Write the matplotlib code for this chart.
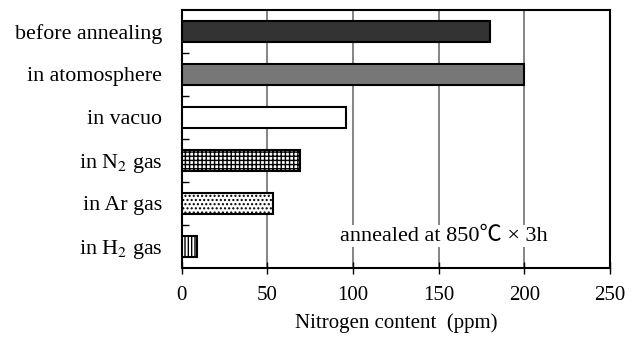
import matplotlib
matplotlib.use('Agg')
import matplotlib.pyplot as plt
import numpy as np

# datos
labels = ['before annealing', 'in atomosphere', 'in vacuo',
          'in N$_2$ gas', 'in Ar gas', 'in H$_2$ gas']
nitrogen = [180, 200, 96, 69, 53, 9]
colores = ['#333333', '#777777', 'white', 'white', 'white', 'white']
hatches = [None, None, None, '++++', '....', '|||||']
xticks = [0, 50, 100, 150, 200, 250]

plt.rcParams['font.family'] = ['Liberation Serif', 'Noto Sans CJK JP', 'DejaVu Sans']
plt.rcParams['mathtext.fontset'] = 'stix'
plt.rcParams['hatch.linewidth'] = 1.0

fig = plt.figure(figsize=(6.4, 3.43), dpi=100)
ax = fig.add_axes([0.284, 0.219, 0.669, 0.752])

y = np.arange(len(labels))[::-1]
for yi, val, c, h in zip(y, nitrogen, colores, hatches):
    ax.barh(yi, val, height=0.5, color=c, edgecolor='black', linewidth=1.5,
            hatch=h, zorder=3)

ax.set_xlim(0, 250)
ax.set_ylim(-0.5, 5.5)
ax.set_xticks(xticks)
ax.set_yticks(y)
ax.set_yticklabels(labels, fontsize=15.8)
ax.set_yticks(np.arange(0.5, 5.5, 1), minor=True)
ax.tick_params(axis='y', which='major', length=0, pad=14)
ax.tick_params(axis='y', which='minor', direction='in', length=5, width=1)
ax.tick_params(axis='x', direction='inout', length=8, width=1, labelsize=15, pad=9)
ax.grid(axis='x', color='#707070', linewidth=1.2, zorder=0)
for s in ax.spines.values():
    s.set_linewidth(1.5)

ax.set_xlabel('Nitrogen content  (ppm)', fontsize=15, labelpad=6)
ax.text(153, 0.24, 'annealed at 850℃ × 3h', fontsize=16, ha='center', va='center',
        bbox=dict(facecolor='white', edgecolor='none', pad=1), zorder=4)

plt.savefig('out.png', dpi=100)
